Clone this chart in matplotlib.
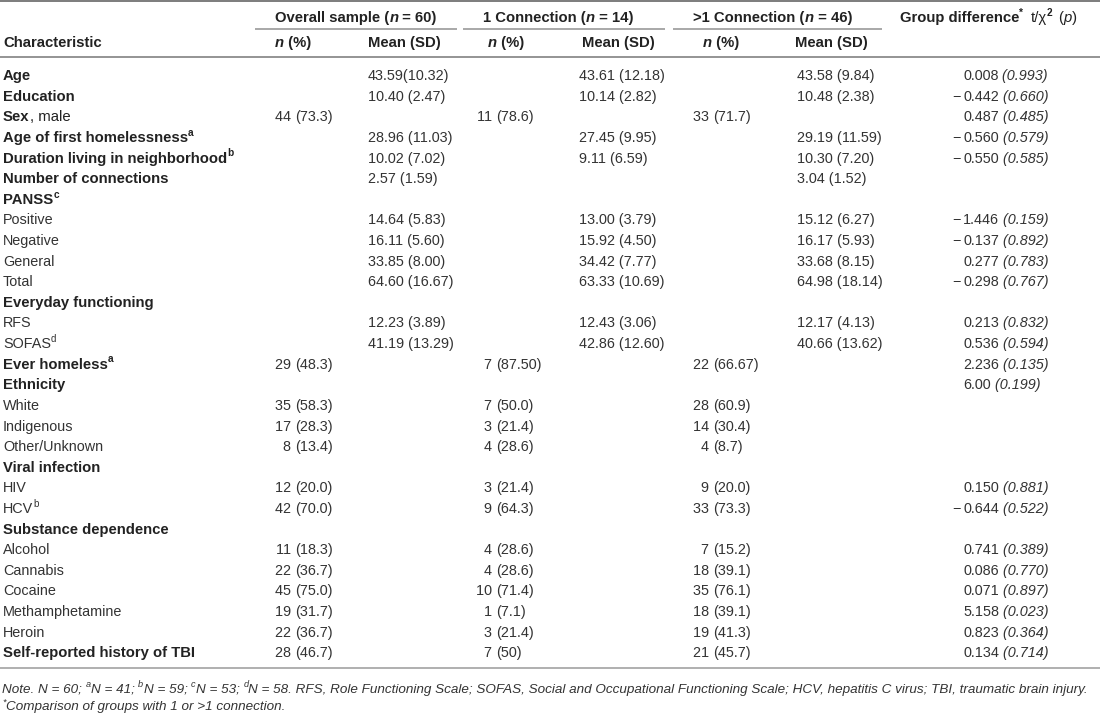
import matplotlib
matplotlib.use('Agg')
import matplotlib.pyplot as plt

# ---------------- data ----------------
characteristic = ["Age", "Education", "Sex", "Age of first homelessness",
                  "Duration living in neighborhood", "Number of connections", "PANSS",
                  "Positive", "Negative", "General", "Total", "Everyday functioning",
                  "RFS", "SOFAS", "Ever homeless", "Ethnicity", "White", "Indigenous",
                  "Other/Unknown", "Viral infection", "HIV", "HCV", "Substance dependence",
                  "Alcohol", "Cannabis", "Cocaine", "Methamphetamine", "Heroin",
                  "Self-reported history of TBI"]
char_suffix = ["", "", ", male"] + [""] * 26
char_note = ["", "", "", "a", "b", "", "c", "", "", "", "", "", "", "d", "a", "", "", "",
             "", "", "", "b", "", "", "", "", "", "", ""]
is_heading = [True, True, True, True, True, True, True, False, False, False, False, True,
              False, False, True, True, False, False, False, True, False, False, True,
              False, False, False, False, False, True]

overall_n = ["", "", "44 (73.3)", "", "", "", "", "", "", "", "", "", "", "", "29 (48.3)", "",
             "35 (58.3)", "17 (28.3)", "8 (13.4)", "", "12 (20.0)", "42 (70.0)", "",
             "11 (18.3)", "22 (36.7)", "45 (75.0)", "19 (31.7)", "22 (36.7)", "28 (46.7)"]
overall_mean = ["43.59(10.32)", "10.40 (2.47)", "", "28.96 (11.03)", "10.02 (7.02)",
                "2.57 (1.59)", "", "14.64 (5.83)", "16.11 (5.60)", "33.85 (8.00)",
                "64.60 (16.67)", "", "12.23 (3.89)", "41.19 (13.29)"] + [""] * 15
one_n = ["", "", "11 (78.6)", "", "", "", "", "", "", "", "", "", "", "", "7 (87.50)", "",
         "7 (50.0)", "3 (21.4)", "4 (28.6)", "", "3 (21.4)", "9 (64.3)", "",
         "4 (28.6)", "4 (28.6)", "10 (71.4)", "1 (7.1)", "3 (21.4)", "7 (50)"]
one_mean = ["43.61 (12.18)", "10.14 (2.82)", "", "27.45 (9.95)", "9.11 (6.59)", "", "",
            "13.00 (3.79)", "15.92 (4.50)", "34.42 (7.77)", "63.33 (10.69)", "",
            "12.43 (3.06)", "42.86 (12.60)"] + [""] * 15
multi_n = ["", "", "33 (71.7)", "", "", "", "", "", "", "", "", "", "", "", "22 (66.67)", "",
           "28 (60.9)", "14 (30.4)", "4 (8.7)", "", "9 (20.0)", "33 (73.3)", "",
           "7 (15.2)", "18 (39.1)", "35 (76.1)", "18 (39.1)", "19 (41.3)", "21 (45.7)"]
multi_mean = ["43.58 (9.84)", "10.48 (2.38)", "", "29.19 (11.59)", "10.30 (7.20)",
              "3.04 (1.52)", "", "15.12 (6.27)", "16.17 (5.93)", "33.68 (8.15)",
              "64.98 (18.14)", "", "12.17 (4.13)", "40.66 (13.62)"] + [""] * 15
group_t = ["0.008", "\u22120.442", "0.487", "\u22120.560", "\u22120.550", "", "",
           "\u22121.446", "\u22120.137", "0.277", "\u22120.298", "", "0.213", "0.536",
           "2.236", "6.00", "", "", "", "", "0.150", "\u22120.644", "", "0.741", "0.086",
           "0.071", "5.158", "0.823", "0.134"]
group_p = ["0.993", "0.660", "0.485", "0.579", "0.585", "", "", "0.159", "0.892", "0.783",
           "0.767", "", "0.832", "0.594", "0.135", "0.199", "", "", "", "", "0.881", "0.522",
           "", "0.389", "0.770", "0.897", "0.023", "0.364", "0.714"]

group_titles = [("Overall sample (", " = 60)"), ("1 Connection (", " = 14)"),
                (">1 Connection (", " = 46)")]

# ---------------- style ----------------
FONT = "Liberation Sans"
FS = 10.4
FS_BOLD = 10.7
SUP = 0.68
TEXT = "#333333"
HEAD = "#222222"
PX = 100 / 72.0

fig = plt.figure(figsize=(11, 7.13), dpi=100)
ax = fig.add_axes([0, 0, 1, 1])
ax.set_xlim(0, 1100)
ax.set_ylim(713, 0)
ax.axis("off")
renderer = fig.canvas.get_renderer()


def make(x, y, s, size, weight, style, color):
    return ax.text(x, y, s, fontsize=size, fontweight=weight, fontstyle=style,
                   family=FONT, color=color, va="baseline", ha="left")


def width(s, size, weight="normal", style="normal"):
    t1 = make(0, 0, "|" + s + "|", size, weight, style, "k")
    t2 = make(0, 0, "||", size, weight, style, "k")
    w = t1.get_window_extent(renderer=renderer).width - t2.get_window_extent(renderer=renderer).width
    t1.remove()
    t2.remove()
    return w


def seg_widths(segs, size):
    return [width(s, size * SUP if sup else size, wt, st) for s, wt, st, sup in segs]


def draw(x, y, segs, size=FS, ha="left", color=TEXT):
    ws = seg_widths(segs, size)
    total = sum(ws)
    if ha == "center":
        x -= total / 2
    elif ha == "right":
        x -= total
    for (s, wt, st, sup), w in zip(segs, ws):
        fs = size * SUP if sup else size
        yy = y - size * 0.42 * PX if sup else y
        make(x, yy, s, fs, wt, st, color)
        x += w
    return total


def draw_paren(xp, y, s):
    # align the value on its opening parenthesis
    head, tail = s.split("(", 1)
    draw(xp, y, [(head, "normal", "normal", False)], ha="right")
    draw(xp, y, [("(" + tail, "normal", "normal", False)])


# ---------------- layout ----------------
X_LABEL = 3
X_PAREN_N = [295, 496, 713]
X_COLS_M = [368, 579, 797]
X_DIFF = 963
UNDER = [(255, 457), (463, 665), (673, 882)]
Y0, Y1 = 75, 652
n_rows = len(characteristic)
dy = (Y1 - Y0) / (n_rows - 1)
BASE = 5.2

# rules
ax.plot([0, 1100], [1, 1], color="#666666", lw=1.2, solid_capstyle="butt")
for a, b in UNDER:
    ax.plot([a, b], [28.5, 28.5], color="#9a9a9a", lw=1.2, solid_capstyle="butt")
ax.plot([0, 1100], [57, 57], color="#777777", lw=1.1, solid_capstyle="butt")
ax.plot([0, 1100], [668, 668], color="#9a9a9a", lw=1.1, solid_capstyle="butt")

# header row 1
for (a, b), (pre, post) in zip(UNDER, group_titles):
    draw(a + 20, 22, [(pre, "bold", "normal", False), ("n", "bold", "italic", False),
                      (post, "bold", "normal", False)], size=FS_BOLD, color=HEAD)
x = 900
x += draw(x, 22, [("Group difference", "bold", "normal", False),
                  ("*", "bold", "normal", True)], size=FS_BOLD, color=HEAD) + 7
x += draw(x, 22, [("t/\u03c7", "normal", "normal", False), ("2", "bold", "normal", True)],
          size=FS_BOLD, color=HEAD) + 6
draw(x, 22, [("(", "normal", "normal", False), ("p", "normal", "italic", False),
             (")", "normal", "normal", False)], size=FS_BOLD, color=HEAD)

# header row 2
draw(X_LABEL, 47, [("Characteristic", "bold", "normal", False)], size=FS_BOLD, color=HEAD)
for xn, xm in zip([275, 488, 703], [368, 582, 795]):
    draw(xn, 47, [("n", "bold", "italic", False), (" (%)", "bold", "normal", False)],
         size=FS_BOLD, color=HEAD)
    draw(xm, 47, [("Mean (SD)", "bold", "normal", False)], size=FS_BOLD, color=HEAD)

# body
for i in range(n_rows):
    yb = Y0 + i * dy + BASE
    if is_heading[i]:
        segs = [(characteristic[i], "bold", "normal", False)]
        if char_suffix[i]:
            segs.append((char_suffix[i], "normal", "normal", False))
        if char_note[i]:
            segs.append((char_note[i], "bold", "normal", True))
        draw(X_LABEL, yb, segs, size=FS_BOLD, color=HEAD)
    else:
        segs = [(characteristic[i], "normal", "normal", False)]
        if char_note[i]:
            segs.append((char_note[i], "normal", "normal", True))
        draw(X_LABEL, yb, segs, size=FS, color=TEXT)
    for col, vals in enumerate([overall_n, one_n, multi_n]):
        if vals[i]:
            draw_paren(X_PAREN_N[col], yb, vals[i])
    for col, vals in enumerate([overall_mean, one_mean, multi_mean]):
        if vals[i]:
            draw(X_COLS_M[col], yb, [(vals[i], "normal", "normal", False)])
    if group_t[i]:
        t = group_t[i]
        if t.startswith("\u2212"):
            draw(X_DIFF - 2, yb, [("\u2212", "normal", "normal", False)], ha="right")
            t = t[1:]
        draw(X_DIFF, yb, [(t, "normal", "normal", False),
                          (" (" + group_p[i] + ")", "normal", "italic", False)])

# notes
note = [("Note. N = 60; ", False), ("a", True), ("N = 41; ", False), ("b", True),
        ("N = 59; ", False), ("c", True), ("N = 53; ", False), ("d", True),
        ("N = 58. RFS, Role Functioning Scale; SOFAS, Social and Occupational Functioning "
         "Scale; HCV, hepatitis C virus; TBI, traumatic brain injury.", False)]
base_fs = 9.0
segs = [(s, "normal", "italic", sp) for s, sp in note]
note_fs = base_fs * 1090 / sum(seg_widths(segs, base_fs))
draw(2, 693, segs, size=note_fs)
draw(2, 710, [("*", "normal", "italic", True),
              ("Comparison of groups with 1 or >1 connection.", "normal", "italic", False)],
     size=note_fs)

fig.savefig("out.png", dpi=100)
